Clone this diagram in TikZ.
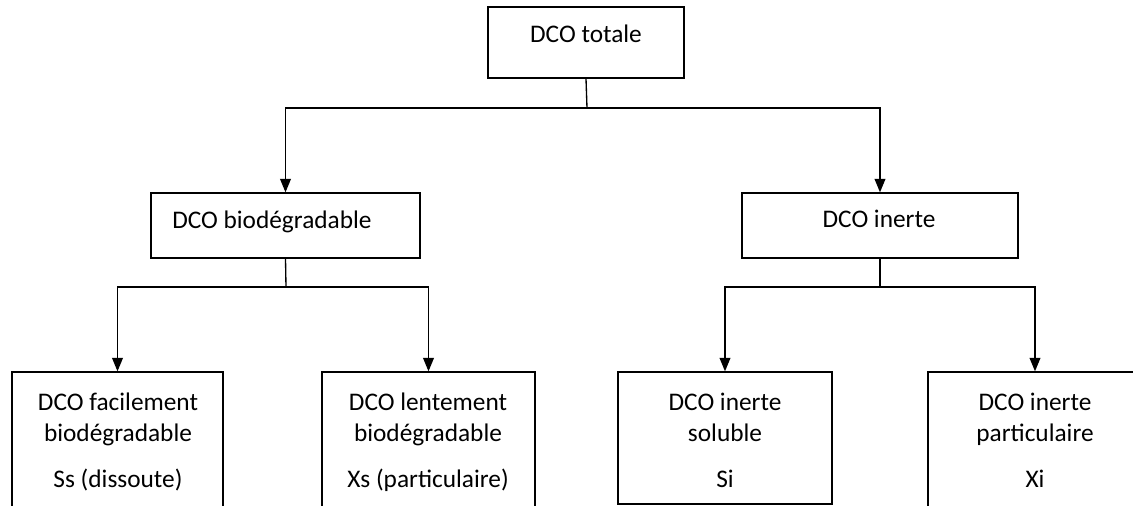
\documentclass[tikz,border=0pt]{standalone}
\usepackage{fontspec}
\setmainfont{Carlito}
\usetikzlibrary{arrows.meta,fit}
\begin{document}
\begin{tikzpicture}[x=0.75pt,y=-0.75pt,
  box/.style={draw=black,line width=1pt,inner sep=0pt,fill=none},
  txt/.style={inner sep=0pt,anchor=base,font=\fontsize{19}{23}\selectfont},
  link/.style={draw=black,line width=1pt},
  arr/.style={link,-{Triangle[width=8pt,length=10pt]}}]
\useasboundingbox (0,0) rectangle (1133,506);
\clip (0,0) rectangle (1133,506);
% boxes
\node[box,fit={(488,7) (684,78)}] (top) {};
\node[box,fit={(151,193) (420,258)}] (bio) {};
\node[box,fit={(742,193) (1018,258)}] (inert) {};
\node[box,fit={(12,372) (223,520)}] (b1) {};
\node[box,fit={(322,372) (535,520)}] (b2) {};
\node[box,fit={(618,372) (832,504)}] (b3) {};
\node[box,fit={(928,372) (1142,520)}] (b4) {};
% texts
\node[txt] (ttop) at (586,43) {DCO totale};
\node[txt,anchor=base west] (tbio) at (172,229) {DCO biodégradable};
\node[txt] (tinert) at (879,228) {DCO inerte};
\node[txt] (t1a) at (118,411) {DCO facilement};
\node[txt] (t1b) at (118,441) {biodégradable};
\node[txt] (t1c) at (118,487) {Ss (dissoute)};
\node[txt] (t2a) at (428,411) {DCO lentement};
\node[txt] (t2b) at (428,441) {biodégradable};
\node[txt] (t2c) at (428,487) {Xs (particulaire)};
\node[txt] (t3a) at (725,411) {DCO inerte};
\node[txt] (t3b) at (725,441) {soluble};
\node[txt] (t3c) at (725,487) {Si};
\node[txt] (t4a) at (1035,411) {DCO inerte};
\node[txt] (t4b) at (1035,441) {particulaire};
\node[txt] (t4c) at (1035,487) {Xi};
% junctions
\coordinate (j0) at (587,108);
\coordinate (j1) at (286,287);
\coordinate (j2) at (880,287);
% connectors
\draw[link] (top.south) -- (j0);
\draw[arr] (j0) -| (bio.north);
\draw[arr] (j0) -| (inert.north);
\draw[link] (bio.south) -- (j1);
\draw[arr] (j1) -| (b1.north);
\draw[arr] (j1) -| (b2.north);
\draw[link] (inert.south) -- (j2);
\draw[arr] (j2) -| (b3.north);
\draw[arr] (j2) -| (b4.north);
\end{tikzpicture}
\end{document}
